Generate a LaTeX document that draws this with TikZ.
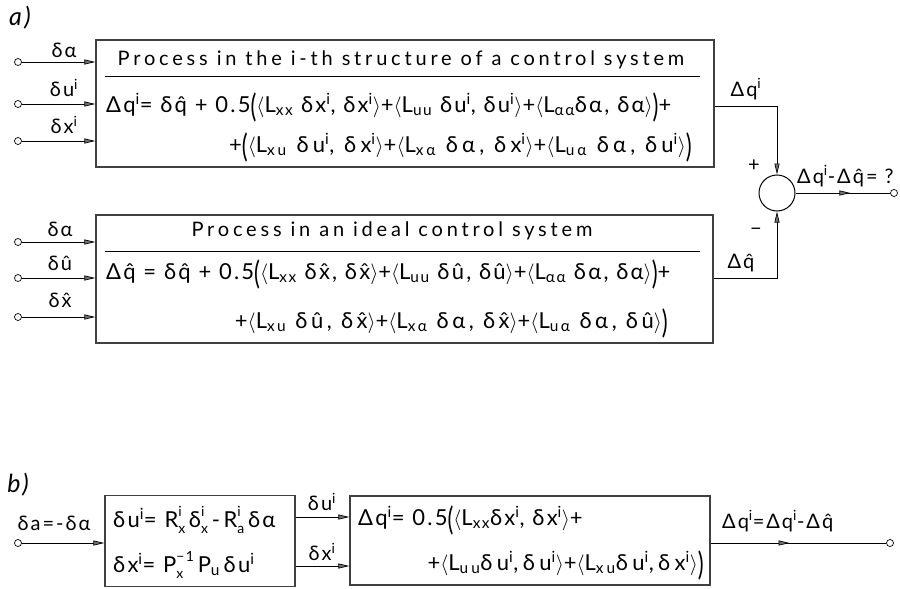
\documentclass[tikz,border=0pt]{standalone}
\usepackage{graphicx}
\usepackage{fontspec}
\setmainfont{Lato}[LetterSpace=10]
\usetikzlibrary{arrows.meta,decorations.markings,calc}
\newcommand\up[1]{\textsuperscript{#1}}
\newcommand\dn[1]{\textsubscript{#1}}
\newdimen\udw
\newcommand\ud[2]{\setbox0\hbox{\fontsize{14}{14}\selectfont #1}\setbox2\hbox{\fontsize{14}{14}\selectfont #2}%
  \ifdim\wd0>\wd2 \udw=\wd0 \else \udw=\wd2 \fi
  \rlap{\raise 0.5em\box0}\rlap{\lower 0.28em\box2}\hspace{\udw}}
\newcommand\la{\ensuremath{\langle}}
\newcommand\ra{\ensuremath{\rangle}}
\newcommand\bo{\raisebox{-0.22em}{\scalebox{1}[1.45]{(}}}
\newcommand\bc{\raisebox{-0.22em}{\scalebox{1}[1.45]{)}}}
\tikzset{
  blk/.style={draw, line width=1.3pt, draw=black!75, rectangle, inner sep=0pt},
  conn/.style={line width=0.7pt, -{Triangle[length=11pt,width=5pt,fill=black!55]}},
  midarrow/.style={line width=0.7pt, postaction={decorate}, decoration={markings,
     mark=at position #1 with {\arrow{Triangle[length=11pt,width=5pt,fill=black!55]}}}},
  term/.style={circle, draw, line width=0.7pt, inner sep=0pt, minimum size=7pt, fill=white},
  sumc/.style={circle, draw, line width=1pt, inner sep=0pt, minimum size=36pt},
  lbl/.style={inner sep=0pt, font=\fontsize{20}{20}\selectfont},
  eq/.style={inner sep=0pt, font=\fontsize{22}{22}\selectfont},
  eqw/.style={inner sep=0pt, font=\fontsize{22}{22}\selectfont\addfontfeatures{LetterSpace=#1}},
  ttl/.style={inner sep=0pt, font=\fontsize{20}{20}\selectfont\addfontfeatures{LetterSpace=19}},
  plbl/.style={inner sep=0pt, font=\fontsize{25}{25}\selectfont\itshape},
}
\begin{document}
\begin{tikzpicture}[x=1pt,y=-1pt]
\useasboundingbox (0,0) rectangle (900,589);
% ---------- part a ----------
\node[plbl] (la) at (20,18) {a)};
\node[blk, minimum width=618pt, minimum height=127pt] (A) at (405,103.5) {};
\node[blk, minimum width=617pt, minimum height=128pt] (B) at (404.5,279) {};
% titles
\node[ttl] (At) at (401,60) {Process in the i-th structure of a control system};
\draw[line width=0.8pt] (105,76) coordinate (Au1) -- (700,76) coordinate (Au2);
\node[ttl] (Bt) at (392,231) {Process in an ideal control system};
\draw[line width=0.8pt] (105,251) coordinate (Bu1) -- (700,251) coordinate (Bu2);
% equations upper
\node[eq, anchor=west] (A2) at (106,107) {Δq\up{i}= δ\^q + 0.5\bo\la L\dn{xx} δx\up{i}, δx\up{i}\ra+\la L\dn{uu} δu\up{i}, δu\up{i}\ra+\la L\dn{αα}δα, δα\ra\bc+};
\node[eqw=19, anchor=east] (A3) at (692,147) {+\bo\la L\dn{xu} δu\up{i}, δx\up{i}\ra+\la L\dn{xα} δα, δx\up{i}\ra+\la L\dn{uα} δα, δu\up{i}\ra\bc};
% equations lower
\node[eq, anchor=west] (B2) at (106,274) {Δ\^q = δ\^q + 0.5\bo\la L\dn{xx} δ\^x, δ\^x\ra+\la L\dn{uu} δû, δû\ra+\la L\dn{αα} δα, δα\ra\bc+};
\node[eqw=16, anchor=east] (B3) at (668,323) {+\la L\dn{xu} δû, δ\^x\ra+\la L\dn{xα} δα, δ\^x\ra+\la L\dn{uα} δα, δû\ra\bc};
% inputs
\node[term] (ia1) at (18,62) {};
\node[term] (ia2) at (18,104) {};
\node[term] (ia3) at (18,141) {};
\node[term] (ib1) at (18,242) {};
\node[term] (ib2) at (18,278) {};
\node[term] (ib3) at (18,317) {};
\draw[conn] (ia1) -- (ia1 -| A.west);
\draw[conn] (ia2) -- (ia2 -| A.west);
\draw[conn] (ia3) -- (ia3 -| A.west);
\draw[conn] (ib1) -- (ib1 -| B.west);
\draw[conn] (ib2) -- (ib2 -| B.west);
\draw[conn] (ib3) -- (ib3 -| B.west);
\node[lbl] (lia1) at (64,50) {δα};
\node[lbl] (lia2) at (64,88) {δu\up{i}};
\node[lbl] (lia3) at (64,125) {δx\up{i}};
\node[lbl] (lib1) at (60,229) {δα};
\node[lbl] (lib2) at (60,263) {δû};
\node[lbl] (lib3) at (60,300) {δ\^x};
% summation
\node[sumc] (S) at (777,193) {};
\coordinate (Ao) at (A.east |- 0,106);
\coordinate (Bo) at (B.east |- 0,278);
\draw[conn] (Ao) -| (S.north);
\draw[conn] (Bo) -| (S.south);
\node[lbl] (lAo) at (746,89) {Δq\up{i}};
\node[lbl] (lBo) at (741,263) {Δ\^q};
\node[lbl] (plus) at (754,166) {+};
\node[lbl] (minus) at (756,232) {−};
\node[term] (out) at (894,193) {};
\draw[midarrow=0.58] (S.east) -- (out);
\node[lbl, anchor=west] (lout) at (797,176) {Δq\up{i}-Δ\^q= ?};
% ---------- part b ----------
\node[plbl] (lb) at (18,485) {b)};
\node[blk, minimum width=190pt, minimum height=91pt] (C) at (200,541) {};
\node[blk, minimum width=360pt, minimum height=89pt] (D) at (530,540.5) {};
\node[eq, anchor=west] (C1) at (113,520) {δu\up{i}= R\ud{i}{x}\,δ\ud{i}{x}\,-\,R\ud{i}{a}\,δα};
\node[eq, anchor=west] (C2) at (113,565) {δx\up{i}= P\ud{−1}{x}\,P\dn{u}\,δu\up{i}};
\node[eq, anchor=west] (D1) at (358,520) {Δq\up{i}= 0.5\bo\la L\dn{xx}δx\up{i}, δx\up{i}\ra+};
\node[eqw=20, anchor=east] (D2) at (704,565) {+\la L\dn{uu}δu\up{i},δu\up{i}\ra+\la L\dn{xu}δu\up{i},δx\up{i}\ra\bc};
\node[term] (bin) at (18,543) {};
\draw[conn] (bin) -- (bin -| C.west);
\node[lbl] (lbin) at (54,523) {δa=-δα};
\coordinate (Cu) at (C.east |- 0,517);
\coordinate (Cx) at (C.east |- 0,566);
\draw[conn] (Cu) -- (Cu -| D.west);
\draw[conn] (Cx) -- (Cx -| D.west);
\node[lbl] (lCu) at (322,502) {δu\up{i}};
\node[lbl] (lCx) at (322,552) {δx\up{i}};
\node[term] (bout) at (890,543) {};
\coordinate (Do) at (D.east |- 0,543);
\draw[midarrow=0.45] (Do) -- (bout);
\node[lbl, anchor=west] (lbout) at (722,521) {Δq\up{i}=Δq\up{i}-Δ\^q};
\end{tikzpicture}
\end{document}
